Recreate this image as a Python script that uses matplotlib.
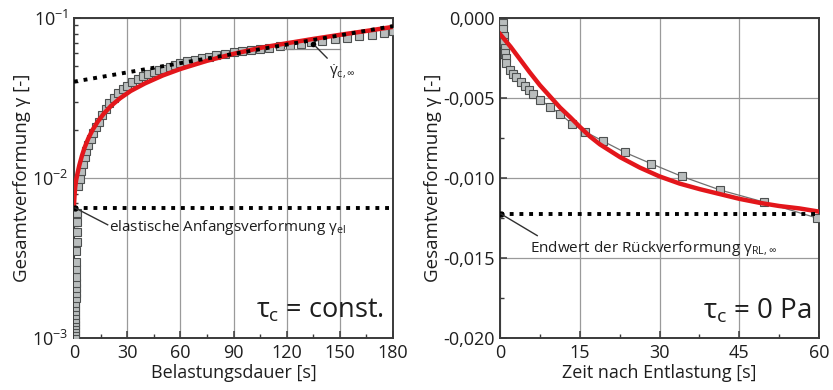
#!/usr/bin/env python3
"""Kriechen und Rückverformung: Gesamtverformung über Belastungsdauer / Entlastung."""
import matplotlib
matplotlib.use("Agg")
import matplotlib.pyplot as plt
from matplotlib.ticker import LogLocator, NullFormatter, MultipleLocator

plt.rcParams["font.family"] = ["Open Sans", "DejaVu Sans"]
plt.rcParams["mathtext.fontset"] = "custom"
plt.rcParams["mathtext.rm"] = "Open Sans"
plt.rcParams["mathtext.it"] = "Open Sans"
plt.rcParams["mathtext.bf"] = "Open Sans:bold"

STYLE = {
    "red": "#e3161b",
    "sq_face": "#b9bdbd",
    "sq_edge": "#4d5050",
    "grid": "#9a9a9a",
    "spine": "#3a3a3a",
    "fg": "#1e1e1e",
}

# --- linkes Diagramm: Belastung (tau_c = const.) ---
creep_t = [0.3, 0.35, 0.4, 0.45, 0.5, 0.55, 0.6, 0.65, 0.7, 0.75, 0.8, 0.85, 0.9,
           0.95, 1.0, 1.1, 1.2, 1.3, 1.4, 1.5, 1.6, 1.7, 1.9, 2.5, 3.2, 4.0, 5.0,
           6.0, 7.0, 8.0, 9.5, 11, 12.5, 14, 16, 18, 20, 22.5, 25, 27.5, 30, 33,
           36, 39, 42, 45, 48, 51, 54, 57, 60, 64, 68, 72, 76, 80, 85, 90, 95,
           100, 105, 110, 116, 122, 128, 134, 140, 147, 154, 161, 168, 175, 180]
creep_gamma = [0.00100, 0.00105, 0.00110, 0.00115, 0.00120, 0.00126, 0.00132,
               0.00139, 0.00147, 0.00156, 0.00166, 0.00177, 0.00190, 0.00205,
               0.0022, 0.0024, 0.0027, 0.0030, 0.0035, 0.0040, 0.0046, 0.0053,
               0.0060, 0.0089, 0.0099, 0.0110, 0.0123, 0.0136, 0.0148, 0.0160,
               0.0176, 0.0192, 0.0207, 0.0225, 0.0248, 0.0270, 0.0293, 0.0318,
               0.0340, 0.0360, 0.0378, 0.0397, 0.0415, 0.0431, 0.0446, 0.0459,
               0.0471, 0.0483, 0.0496, 0.0508, 0.0520, 0.0535, 0.0548, 0.0561,
               0.0573, 0.0584, 0.0597, 0.0609, 0.0620, 0.0630, 0.0641, 0.0652,
               0.0665, 0.0678, 0.0692, 0.0706, 0.0720, 0.0737, 0.0753, 0.0770,
               0.0788, 0.0810, 0.0835]

creep_fit_t = [0, 0.3, 0.7, 1.2, 2, 3, 4.5, 6, 8, 10.5, 13.5, 17, 21, 26, 32, 40,
               50, 60, 75, 90, 105, 120, 135, 150, 165, 180]
creep_fit_gamma = [0.0068, 0.0078, 0.0088, 0.0097, 0.0107, 0.0120, 0.0138, 0.0155,
                   0.0176, 0.0200, 0.0226, 0.0254, 0.0283, 0.0315, 0.0350, 0.0390,
                   0.0437, 0.0480, 0.0540, 0.0597, 0.0650, 0.0695, 0.0740, 0.0785,
                   0.0830, 0.0880]

tangent_t = [0, 180]
tangent_gamma = [0.040, 0.089]
gamma_el = 0.0065
slope_mark_t = [118, 150]
slope_mark_gamma = 0.064
slope_point = (135, 0.0688)

# --- rechtes Diagramm: Entlastung (tau_c = 0 Pa) ---
recov_t = [0.5, 0.6, 0.7, 0.8, 0.9, 1.0, 1.1, 1.2, 1.9, 2.5, 3.1, 3.9, 4.7, 5.5,
           6.3, 7.5, 9.4, 11.3, 13.5, 16.0, 19.4, 23.5, 28.4, 34.2, 41.4, 49.6, 59.6]
recov_gamma = [-0.0003, -0.0007, -0.0011, -0.0015, -0.0019, -0.0022, -0.0025,
               -0.0028, -0.00325, -0.0035, -0.0037, -0.0040, -0.00425, -0.0045,
               -0.00475, -0.0051, -0.00555, -0.0060, -0.0066, -0.0071, -0.0077,
               -0.0084, -0.0091, -0.0099, -0.01075, -0.0115, -0.0125]

recov_fit_t = [0, 2, 3.8, 5.6, 7.5, 9.4, 11.3, 13.2, 15, 16.9, 18.8, 22.6, 26.3,
               30, 33.8, 37.6, 41.3, 45, 48.8, 52.5, 56.3, 60]
recov_fit_gamma = [-0.0010, -0.0018, -0.0026, -0.0034, -0.0042, -0.0049, -0.0056,
                   -0.0062, -0.0068, -0.0074, -0.0079, -0.0087, -0.00935, -0.0099,
                   -0.01035, -0.0107, -0.0110, -0.0113, -0.01155, -0.01175,
                   -0.0119, -0.0121]

gamma_rl_inf = -0.01225


def style_axes(ax):
    for side in ("left", "right", "top", "bottom"):
        ax.spines[side].set_color(STYLE["spine"])
        ax.spines[side].set_linewidth(1.4)
    ax.tick_params(which="both", direction="in", top=False, right=False,
                   colors=STYLE["spine"], labelcolor=STYLE["fg"], labelsize=13)
    ax.tick_params(which="major", length=5, width=1.1, pad=4)
    ax.tick_params(which="minor", length=3, width=1.0)
    ax.grid(True, which="major", color=STYLE["grid"], linewidth=0.9)
    ax.set_axisbelow(True)


fig = plt.figure(figsize=(8.33, 3.90), dpi=100)
fig.patch.set_facecolor("white")
ax1 = fig.add_axes([74 / 833, 52 / 390, 319 / 833, 320 / 390])
ax2 = fig.add_axes([500 / 833, 52 / 390, 319 / 833, 320 / 390])

# left panel
ax1.set_yscale("log")
ax1.plot(creep_t, creep_gamma, linestyle="none", marker="s", markersize=5.6,
         markerfacecolor=STYLE["sq_face"], markeredgecolor=STYLE["sq_edge"],
         markeredgewidth=0.8, zorder=3)
ax1.plot(creep_fit_t, creep_fit_gamma, color=STYLE["red"], linewidth=3.2, zorder=4)
ax1.plot(tangent_t, tangent_gamma, color="black", linewidth=2.8,
         linestyle=(0, (1, 1.5)), zorder=5)
ax1.plot([0, 180], [gamma_el, gamma_el], color="black", linewidth=2.8,
         linestyle=(0, (1, 1.5)), zorder=5)
ax1.plot(slope_mark_t, [slope_mark_gamma] * 2, color="#8a8a8a", linewidth=0.9, zorder=4)
ax1.plot([0.6], [gamma_el], marker="o", color="black", markersize=3.5, zorder=6)
ax1.plot([slope_point[0]], [slope_point[1]], marker="o", color="black",
         markersize=3.0, zorder=6)
ax1.plot([0.6, 19], [gamma_el, 0.0051], color="#303030", linewidth=1.0, zorder=6)
ax1.annotate("", xy=slope_point, xytext=(144, 0.0545),
             arrowprops=dict(arrowstyle="-", color="#303030", lw=1.0), zorder=6)
ax1.text(144, 0.0465, r"$\dot{\gamma}_{\mathrm{c,}\infty}$", fontsize=11,
         color=STYLE["fg"], ha="left", va="center")
ax1.text(20, 0.0049, r"elastische Anfangsverformung $\gamma_{\mathrm{el}}$",
         fontsize=11, color=STYLE["fg"], ha="left", va="center")
ax1.text(175, 0.00135, r"$\tau_{\mathrm{c}}$ = const.", fontsize=19.5,
         color=STYLE["fg"], ha="right", va="baseline")

ax1.set_xlim(0, 180)
ax1.set_ylim(1e-3, 1e-1)
ax1.set_xticks([0, 30, 60, 90, 120, 150, 180])
ax1.xaxis.set_minor_locator(MultipleLocator(15))
ax1.set_yticks([1e-3, 1e-2, 1e-1])
ax1.set_yticklabels([r"10$^{-3}$", r"10$^{-2}$", r"10$^{-1}$"])
ax1.yaxis.set_minor_locator(LogLocator(base=10, subs=range(2, 10)))
ax1.yaxis.set_minor_formatter(NullFormatter())
style_axes(ax1)
ax1.set_xlabel("Belastungsdauer [s]", fontsize=13, color=STYLE["fg"], labelpad=2)
ax1.set_ylabel("Gesamtverformung γ [-]", fontsize=13.5, color=STYLE["fg"], labelpad=1)

# right panel
ax2.plot(recov_t, recov_gamma, color="#707070", linewidth=0.9, marker="s",
         markersize=5.6, markerfacecolor=STYLE["sq_face"],
         markeredgecolor=STYLE["sq_edge"], markeredgewidth=0.8, zorder=3)
ax2.plot(recov_fit_t, recov_fit_gamma, color=STYLE["red"], linewidth=3.2, zorder=4)
ax2.plot([0, 60], [gamma_rl_inf, gamma_rl_inf], color="black", linewidth=2.8,
         linestyle=(0, (1, 1.5)), zorder=5)
ax2.plot([0.2], [gamma_rl_inf], marker="o", color="black", markersize=3.5, zorder=6)
ax2.plot([0.2, 7], [gamma_rl_inf, -0.0136], color="#303030", linewidth=1.0, zorder=6)
ax2.text(5.6, -0.0144, r"Endwert der Rückverformung $\gamma_{\mathrm{RL,}\infty}$",
         fontsize=11, color=STYLE["fg"], ha="left", va="center")
ax2.text(58.5, -0.0188, r"$\tau_{\mathrm{c}}$ = 0 Pa", fontsize=20,
         color=STYLE["fg"], ha="right", va="baseline")

ax2.set_xlim(0, 60)
ax2.set_ylim(-0.020, 0.0)
ax2.set_xticks([0, 15, 30, 45, 60])
ax2.xaxis.set_minor_locator(MultipleLocator(7.5))
ax2.set_yticks([-0.020, -0.015, -0.010, -0.005, 0.0])
ax2.set_yticklabels(["-0,020", "-0,015", "-0,010", "-0,005", "0,000"])
ax2.yaxis.set_minor_locator(MultipleLocator(0.0025))
style_axes(ax2)
ax2.set_xlabel("Zeit nach Entlastung [s]", fontsize=13, color=STYLE["fg"], labelpad=2)
ax2.set_ylabel("Gesamtverformung γ [-]", fontsize=13.5, color=STYLE["fg"], labelpad=1)

fig.savefig("out.png", dpi=100, facecolor="white")
